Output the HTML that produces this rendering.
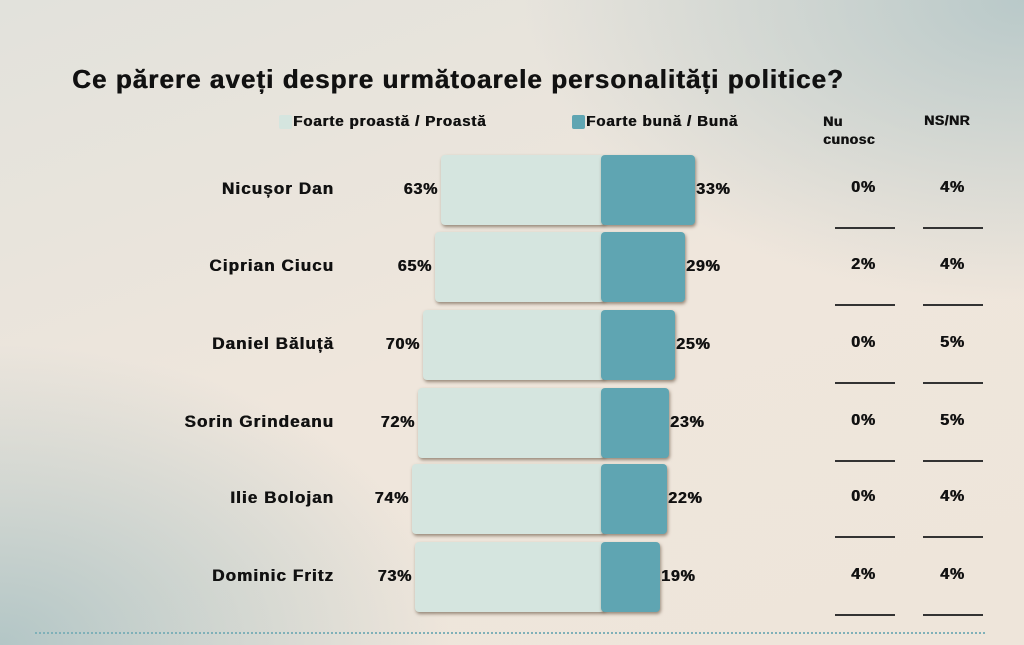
<!DOCTYPE html>
<html><head><meta charset="utf-8"><style>
body{margin:0}
#c{position:relative;width:1024px;height:645px;overflow:hidden;font-family:"Liberation Sans",sans-serif;font-weight:bold;color:#111;
background:radial-gradient(ellipse 500px 300px at 1024px 0px,#b9c9c9 0%,rgba(220,220,210,0) 100%),radial-gradient(ellipse 450px 300px at 0px 645px,#b3c6c6 0%,rgba(220,220,210,0) 100%),linear-gradient(160deg,#e2e2dc 0%,#efe6dc 50%,#eee5da 100%);}
.t{position:absolute;white-space:nowrap;text-shadow:0.6px 0 0 #111}
.bar{position:absolute;height:70px;border-radius:4px;box-shadow:1px 2px 3px rgba(80,60,40,.55)}
.l{background:#d5e5df}
.r{background:#5fa5b2}
.ln{position:absolute;height:1.5px;background:#333;width:60px}
</style></head><body><div id="c">
<div class="t" style="left:72px;top:64px;font-size:26px;letter-spacing:1.05px">Ce părere aveți despre următoarele personalități politice?</div>
<div style="position:absolute;left:279px;top:115px;width:13px;height:14px;background:#d5e5df;border-radius:2px"></div>
<div class="t" style="left:293px;top:113px;font-size:15px;letter-spacing:0.9px">Foarte proastă / Proastă</div>
<div style="position:absolute;left:572px;top:115px;width:13px;height:14px;background:#5fa5b2;border-radius:2px"></div>
<div class="t" style="left:586px;top:113px;font-size:15px;letter-spacing:0.9px">Foarte bună / Bună</div>
<div class="t" style="left:823px;top:112px;font-size:14px;line-height:18px;letter-spacing:0.5px">Nu<br>cunosc</div>
<div class="t" style="left:924px;top:112px;font-size:14px;letter-spacing:0.5px">NS/NR</div>
<div id="rows"></div>
<div style="position:absolute;left:35px;top:632px;width:950px;border-top:2px dotted #7fb0b8"></div>
</div>
<script>
var d=[["Nicușor Dan",63,33,0,4,441,695,155],["Ciprian Ciucu",65,29,2,4,435,685,232],["Daniel Băluță",70,25,0,5,423,675,310],["Sorin Grindeanu",72,23,0,5,418,669,388],["Ilie Bolojan",74,22,0,4,412,667,464],["Dominic Fritz",73,19,4,4,415,660,542]];
var h="";d.forEach(function(r){var y=r[7],cy=y+35;
h+='<div class="bar l" style="left:'+r[5]+'px;top:'+y+'px;width:'+(605-r[5])+'px"></div>';
h+='<div class="bar r" style="left:601px;top:'+y+'px;width:'+(r[6]-601)+'px"></div>';
h+='<div class="t" style="right:'+(1024-334)+'px;top:'+(cy-11)+'px;font-size:17px;letter-spacing:1.1px">'+r[0]+'</div>';
h+='<div class="t" style="right:'+(1024-r[5]+3)+'px;top:'+(cy-9)+'px;font-size:16px;letter-spacing:0.8px">'+r[1]+'%</div>';
h+='<div class="t" style="left:'+(r[6]+1)+'px;top:'+(cy-9)+'px;font-size:16px;letter-spacing:0.8px">'+r[2]+'%</div>';
h+='<div class="t" style="left:851px;top:'+(cy-11)+'px;font-size:16px;letter-spacing:0.8px">'+r[3]+'%</div>';
h+='<div class="t" style="left:940px;top:'+(cy-11)+'px;font-size:16px;letter-spacing:0.8px">'+r[4]+'%</div>';
h+='<div class="ln" style="left:835px;top:'+(y+72)+'px"></div><div class="ln" style="left:923px;top:'+(y+72)+'px"></div>';});
document.getElementById("rows").innerHTML=h;
</script></body></html>
